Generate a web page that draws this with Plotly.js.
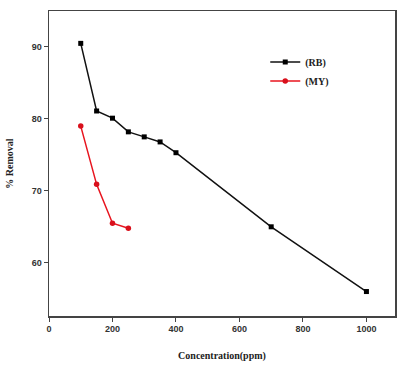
<!DOCTYPE html>
<html>
<head>
<meta charset="utf-8">
<script src="https://cdn.plot.ly/plotly-3.0.1.min.js"></script>
<style>html,body{margin:0;padding:0;background:#fff;}#chart{width:397px;height:365px;}</style>
</head>
<body>
<div id="chart"></div>
<script>
const rbConc = [100, 150, 200, 250, 300, 350, 400, 700, 1000];
const rbRemoval = [90.5, 81.1, 80.1, 78.2, 77.5, 76.8, 75.3, 65.0, 56.0];
const myConc = [100, 150, 200, 250];
const myRemoval = [79.0, 70.9, 65.5, 64.8];
const xTicks = [0, 200, 400, 600, 800, 1000];
const yTicks = [60, 70, 80, 90];

const traces = [
  {x: rbConc, y: rbRemoval, name: '(RB)', mode: 'lines+markers', type: 'scatter',
   line: {color: '#111', width: 1.5}, marker: {symbol: 'square', size: 5, color: '#000'}},
  {x: myConc, y: myRemoval, name: '(MY)', mode: 'lines+markers', type: 'scatter',
   line: {color: '#e8141e', width: 1.5}, marker: {symbol: 'circle', size: 5.5, color: '#d9101c'}}
];
const tickFont = {family: 'Liberation Sans, Arial, sans-serif', size: 9, color: '#333', weight: 'bold'};
const titleFont = {family: 'Liberation Serif, Times New Roman, serif', size: 10, color: '#222', weight: 'bold'};
const layout = {
  width: 397, height: 365,
  margin: {l: 49, r: 2, t: 11, b: 49},
  paper_bgcolor: '#fff', plot_bgcolor: '#fff',
  showlegend: true,
  legend: {x: 0.625, y: 0.88, xanchor: 'left', yanchor: 'top', bgcolor: 'rgba(0,0,0,0)',
    font: titleFont, itemwidth: 30, tracegroupgap: 2},
  xaxis: {range: [0, 1090], tickvals: xTicks, ticktext: xTicks.map(String), showgrid: false, zeroline: false,
    showline: true, linecolor: '#444', linewidth: 1.5, mirror: true, ticks: 'outside', ticklen: 4, tickcolor: '#444',
    tickfont: tickFont,
    title: {text: 'Concentration(ppm)', standoff: 18, font: titleFont}},
  yaxis: {range: [52.6, 95], tickvals: yTicks, ticktext: yTicks.map(String), showgrid: false, zeroline: false,
    showline: true, linecolor: '#444', linewidth: 1.5, mirror: true, ticks: 'outside', ticklen: 4, tickcolor: '#444',
    tickfont: tickFont,
    title: {text: '% Removal', standoff: 16, font: titleFont}}
};
Plotly.newPlot('chart', traces, layout, {displayModeBar: false, staticPlot: true});
</script>
</body>
</html>
